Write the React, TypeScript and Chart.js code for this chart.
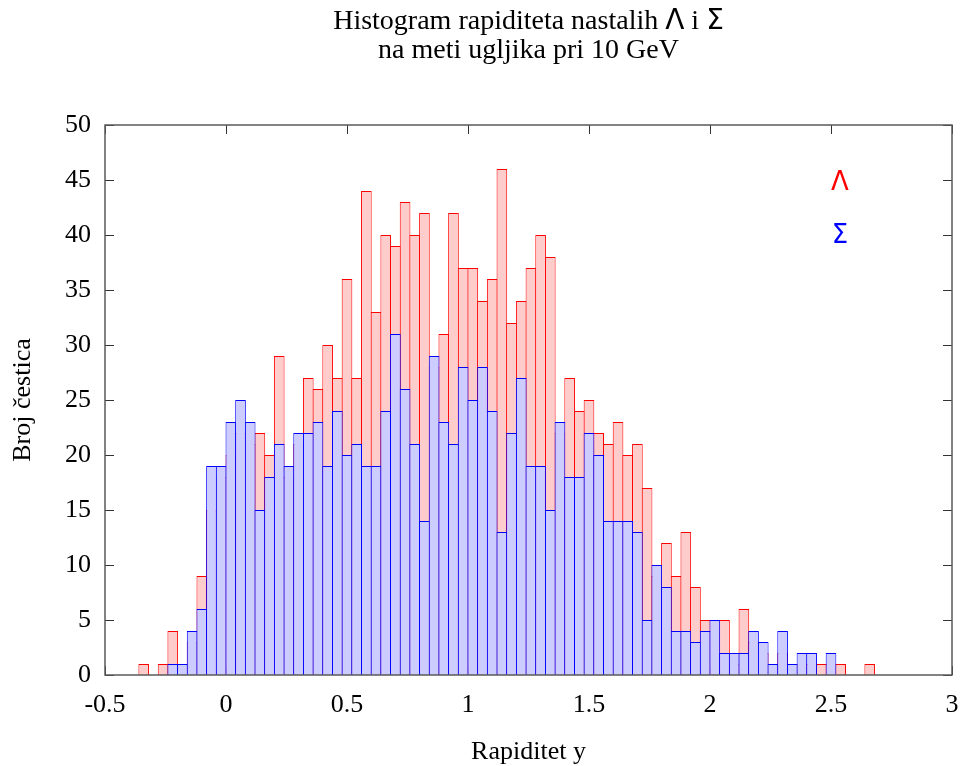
import React, { useEffect, useRef } from 'react';
import { Chart, registerables } from 'chart.js';

Chart.register(...registerables);

// Histogram bins: first bin starts at -0.36, each bin is 0.04 wide
const BIN_START = -0.36;
const BIN_WIDTH = 0.04;

// Lambda counts per bin (red)
const lambdaCounts = [
  1, 0, 1, 4, 1, 3, 9, 15, 18,
  20, 22, 21, 22, 20, 29, 18, 21, 27, 26,
  30, 27, 36, 27, 44, 33, 40, 39, 43, 40,
  42, 28, 31, 42, 37, 37, 34, 36, 46, 32,
  34, 37, 40, 38, 22, 27, 24, 25, 22, 21,
  23, 20, 21, 17, 9, 12, 9, 13, 8, 5,
  4, 5, 1, 6, 3, 2, 0, 2, 0, 1,
  1, 1, 1, 1, 0, 0, 1,
];

// Sigma counts per bin (blue)
const sigmaCounts = [
  0, 0, 0, 1, 1, 4, 6, 19, 19,
  23, 25, 23, 15, 18, 21, 19, 22, 22, 23,
  19, 24, 20, 21, 19, 19, 24, 31, 26, 21,
  14, 29, 23, 21, 28, 25, 28, 24, 13, 22,
  27, 19, 19, 15, 23, 18, 18, 22, 20, 14,
  14, 14, 13, 5, 10, 8, 4, 4, 3, 4,
  5, 2, 2, 2, 4, 3, 1, 4, 1, 2,
  2, 0, 2, 0, 0, 0, 0,
];

const xTickValues = [-0.5, 0, 0.5, 1, 1.5, 2, 2.5, 3];
const xTickLabels = ['-0.5', '0', '0.5', '1', '1.5', '2', '2.5', '3'];
const yTickValues = [0, 5, 10, 15, 20, 25, 30, 35, 40, 45, 50];
const yTickLabels = ['0', '5', '10', '15', '20', '25', '30', '35', '40', '45', '50'];

const titleLine1 = [
  { text: 'Histogram rapiditeta nastalih ', greek: false },
  { text: 'Λ', greek: true },
  { text: ' i ', greek: false },
  { text: 'Σ', greek: true },
];
const titleLine2 = [{ text: 'na meti ugljika pri 10 GeV', greek: false }];
const xAxisTitle = 'Rapiditet y';
const yAxisTitle = 'Broj čestica';
const seriesNames = ['Λ', 'Σ'];

const SERIF = "'Liberation Serif', 'Times New Roman', serif";
const SANS = "'DejaVu Sans', sans-serif";

const binCenters = lambdaCounts.map((_, i) => BIN_START + (i + 0.5) * BIN_WIDTH);

const frameAndTicks = {
  id: 'frameAndTicks',
  beforeDatasetsDraw(chart: any) {
    const { ctx, chartArea: a, scales } = chart;
    const L = 9;
    ctx.save();
    ctx.strokeStyle = '#333';
    ctx.lineWidth = 1;
    ctx.beginPath();
    xTickValues.forEach((v) => {
      const px = Math.round(scales.x.getPixelForValue(v)) + 0.5;
      ctx.moveTo(px, a.top);
      ctx.lineTo(px, a.top + L);
      ctx.moveTo(px, a.bottom);
      ctx.lineTo(px, a.bottom - L);
    });
    yTickValues.forEach((v) => {
      const py = Math.round(scales.y.getPixelForValue(v)) + 0.5;
      ctx.moveTo(a.left, py);
      ctx.lineTo(a.left + L, py);
      ctx.moveTo(a.right, py);
      ctx.lineTo(a.right - L, py);
    });
    ctx.stroke();
    ctx.restore();
  },
  afterDatasetsDraw(chart: any) {
    const { ctx, chartArea: a } = chart;
    ctx.save();
    ctx.strokeStyle = '#5a5a5a';
    ctx.lineWidth = 1.5;
    ctx.strokeRect(a.left, a.top, a.right - a.left, a.bottom - a.top);
    ctx.restore();
  },
};

const titleAndKey = {
  id: 'titleAndKey',
  afterDraw(chart: any) {
    const { ctx, chartArea: a } = chart;
    const cx = (a.left + a.right) / 2;
    ctx.save();
    ctx.fillStyle = '#000';
    ctx.textBaseline = 'alphabetic';
    ctx.textAlign = 'left';
    const drawLine = (segs: { text: string; greek: boolean }[], y: number) => {
      const fontFor = (g: boolean) => (g ? `28px ${SANS}` : `28px ${SERIF}`);
      let total = 0;
      segs.forEach((s) => {
        ctx.font = fontFor(s.greek);
        total += ctx.measureText(s.text).width;
      });
      let x = cx - total / 2;
      segs.forEach((s) => {
        ctx.font = fontFor(s.greek);
        ctx.fillText(s.text, x, y);
        x += ctx.measureText(s.text).width;
      });
    };
    drawLine(titleLine1, 29);
    drawLine(titleLine2, 58);

    // key
    ctx.textAlign = 'center';
    ctx.font = `26px ${SANS}`;
    ctx.fillStyle = '#ff0000';
    ctx.fillText(seriesNames[0], a.right - 112, a.top + 65);
    ctx.fillStyle = '#0000ff';
    ctx.fillText(seriesNames[1], a.right - 112, a.top + 118);
    ctx.restore();
  },
};

export default function App() {
  const ref = useRef<HTMLCanvasElement | null>(null);

  useEffect(() => {
    document.body.style.margin = '0';
    const canvas = ref.current;
    if (!canvas) return;
    const tickFont = { family: SERIF, size: 26, lineHeight: 1.2 };
    const chart = new Chart(canvas, {
      type: 'bar',
      data: {
        datasets: [
          {
            label: seriesNames[1],
            data: sigmaCounts.map((v, i) => ({ x: binCenters[i], y: v })),
            backgroundColor: '#ccccff',
            borderColor: '#0000ff',
            borderWidth: 1,
            borderSkipped: 'start',
            grouped: false,
            order: 1,
            barPercentage: 1.1,
            categoryPercentage: 1,
            inflateAmount: 0,
          } as any,
          {
            label: seriesNames[0],
            data: lambdaCounts.map((v, i) => ({ x: binCenters[i], y: v })),
            backgroundColor: '#ffcccc',
            borderColor: '#ff0000',
            borderWidth: 1,
            borderSkipped: 'start',
            grouped: false,
            order: 2,
            barPercentage: 1.1,
            categoryPercentage: 1,
            inflateAmount: 0,
          } as any,
        ],
      },
      options: {
        responsive: false,
        animation: false,
        layout: { padding: { top: 125, right: 13, left: 0, bottom: 0 } },
        plugins: {
          legend: { display: false },
          title: { display: false },
          tooltip: { enabled: false },
        },
        scales: {
          x: {
            type: 'linear',
            min: -0.5,
            max: 3,
            offset: false,
            afterBuildTicks: (s: any) => {
              s.ticks = xTickValues.map((v) => ({ value: v }));
            },
            afterFit: (s: any) => {
              s.height = 91;
              s.paddingLeft = 0;
              s.paddingRight = 0;
            },
            ticks: {
              callback: (_v: any, i: number) => xTickLabels[i],
              autoSkip: false,
              maxRotation: 0,
              minRotation: 0,
              padding: 15,
              color: '#000',
              font: tickFont,
            },
            grid: { display: false, drawTicks: false },
            border: { display: false },
            title: {
              display: true,
              text: xAxisTitle,
              color: '#000',
              font: { family: SERIF, size: 26, lineHeight: 1.0 },
              padding: { top: 0, bottom: 1 },
            },
          },
          y: {
            type: 'linear',
            min: 0,
            max: 50,
            afterBuildTicks: (s: any) => {
              s.ticks = yTickValues.map((v) => ({ value: v }));
            },
            afterFit: (s: any) => {
              s.width = 105;
              s.paddingTop = 0;
              s.paddingBottom = 0;
            },
            ticks: {
              callback: (_v: any, i: number) => yTickLabels[i],
              padding: 14,
              color: '#000',
              font: tickFont,
            },
            grid: { display: false, drawTicks: false },
            border: { display: false },
            title: {
              display: true,
              text: yAxisTitle,
              color: '#000',
              font: tickFont,
              padding: { top: 8, bottom: 0 },
            },
          },
        },
      } as any,
      plugins: [frameAndTicks, titleAndKey],
    });
    return () => chart.destroy();
  }, []);

  return (
    <div style={{ width: 965, height: 766 }}>
      <canvas ref={ref} width={965} height={766} style={{ display: 'block' }} />
    </div>
  );
}
